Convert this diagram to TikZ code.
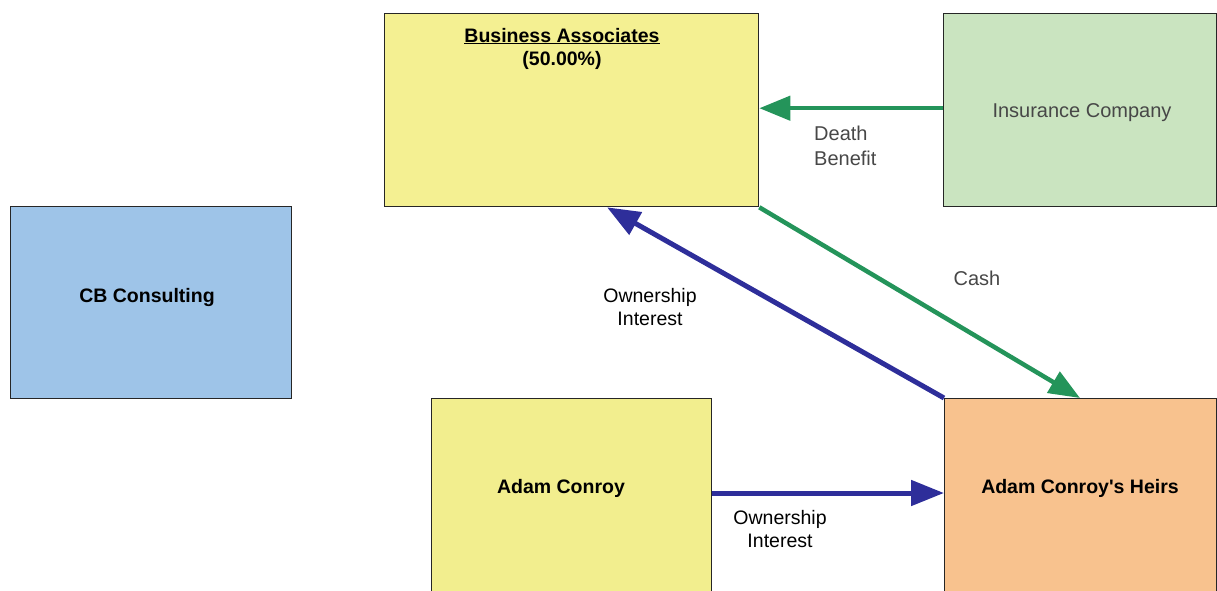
\documentclass[tikz,border=0pt]{standalone}
\usepackage{fontspec}
\setmainfont{Liberation Sans}
\usetikzlibrary{arrows.meta,calc}

\definecolor{bayellow}{RGB}{244,240,146}
\definecolor{acyellow}{RGB}{242,238,142}
\definecolor{insgreen}{RGB}{202,228,192}
\definecolor{cbblue}{RGB}{158,196,232}
\definecolor{heirorange}{RGB}{248,194,142}
\definecolor{arrowgreen}{RGB}{36,148,90}
\definecolor{arrowblue}{RGB}{46,46,154}

% straight apostrophe, set as a glyph so the TeX mapping leaves it alone
\newcommand{\straightquote}{\XeTeXglyph\XeTeXcharglyph"0027\relax}

\begin{document}
\begin{tikzpicture}[x=1pt,y=-1pt,
  box/.style={draw=black!85, line width=1.3pt, inner sep=0pt, anchor=north west},
  boldtxt/.style={font=\fontsize{19.5}{23}\selectfont\bfseries, inner sep=0pt, anchor=base},
  lbl/.style={font=\fontsize{19.5}{23}\selectfont, inner sep=0pt, anchor=base},
  greylbl/.style={font=\fontsize{20}{24}\selectfont, text=black!72, inner sep=0pt},
  bluearrow/.style={draw=arrowblue, line width=5pt, -{Triangle[length=33pt,width=25pt]}},
  greenarrow/.style={draw=arrowgreen, line width=4.5pt, -{Triangle[length=31pt,width=24pt]}},
]
\useasboundingbox (0,0) rectangle (1217,590);

% boxes
\node[box, fill=bayellow, minimum width=374pt, minimum height=193pt] (ba) at (384,13) {};
\node[box, fill=insgreen, minimum width=273pt, minimum height=193pt] (ins) at (943,13) {};
\node[box, fill=cbblue, minimum width=281pt, minimum height=192pt] (cb) at (10,206) {};
\node[box, fill=acyellow, minimum width=280pt, minimum height=210pt] (ac) at (431,398) {};
\node[box, fill=heirorange, minimum width=272pt, minimum height=210pt] (heirs) at (944,398) {};

% box texts
\node[boldtxt] (batitle) at (562,42) {\underline{Business Associates}};
\node[boldtxt] (bapct) at (562,65) {(50.00\%)};
\node[boldtxt] (cbtext) at (147,302) {CB Consulting};
\node[boldtxt] (actext) at (561,493) {Adam Conroy};
\node[boldtxt] (heirstext) at (1080,493) {Adam Conroy\straightquote s Heirs};
\node[greylbl, anchor=base] (instext) at (1082,117) {Insurance Company};

% flows
\draw[greenarrow] ($(ins.north west)!0.49!(ins.south west)$) -- ($(ba.north east)!0.49!(ba.south east)$);
\draw[greenarrow] (ba.south east) -- ($(heirs.north west)+(136,0)$);
\draw[bluearrow] (heirs.north west) -- ($(ba.south west)+(223,0)$);
\draw[bluearrow] ($(ac.north east)+(0,95)$) -- ($(heirs.north west)+(0,95)$);

% flow labels
\node[greylbl, anchor=base west] (death) at (814,140) {Death};
\node[greylbl, anchor=base west] (benefit) at (814,165) {Benefit};
\node[greylbl, anchor=base] (cash) at (977,285) {Cash};
\node[lbl] (own1) at (650,302) {Ownership};
\node[lbl] (int1) at (650,325) {Interest};
\node[lbl] (own2) at (780,524) {Ownership};
\node[lbl] (int2) at (780,547) {Interest};
\end{tikzpicture}
\end{document}
